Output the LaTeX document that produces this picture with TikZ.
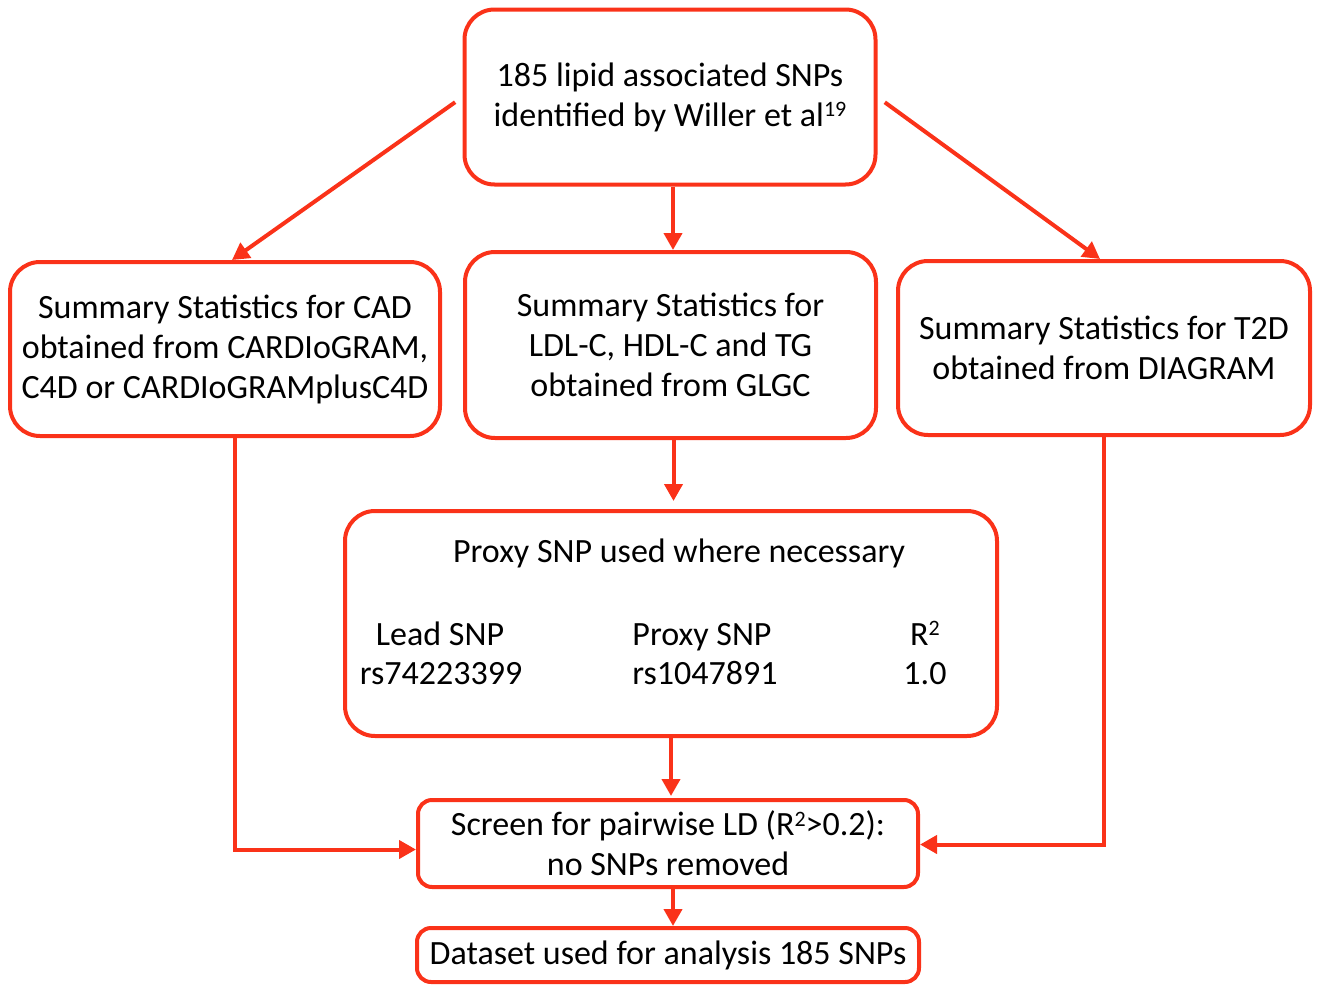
\documentclass[tikz,border=0pt]{standalone}
\usepackage{fontspec}
\setmainfont{Carlito}
\usepackage{tikz}
\usepackage{xcolor}
\usetikzlibrary{arrows.meta,calc,positioning}
\definecolor{flowred}{RGB}{250,50,25}
\newcommand{\supnum}[1]{\raisebox{0.6ex}{\fontsize{11}{11}\selectfont #1}}

\begin{document}
\begin{tikzpicture}[x=0.5pt,y=-0.5pt,>={Triangle[length=8.5pt,width=9pt]},
  font=\fontsize{17}{20}\selectfont]
  \useasboundingbox (0,0) rectangle (1318,985);
  \node[draw=flowred,line width=2pt,rounded corners=15pt,minimum width=205.5pt,minimum height=87.5pt,align=center] (top) at (670,97) {185 lipid associated SNPs\\ identified by Willer et al\supnum{19}};
  \node[draw=flowred,line width=2pt,rounded corners=15pt,minimum width=215pt,minimum height=87pt,align=center] (cad) at (225,349) {Summary Statistics for CAD\\ obtained from CARDIoGRAM,\\ C4D or CARDIoGRAMplusC4D};
  \node[draw=flowred,line width=2pt,rounded corners=15pt,minimum width=205.5pt,minimum height=93pt,align=center] (glgc) at (670.5,345) {Summary Statistics for\\ LDL-C, HDL-C and TG\\ obtained from GLGC};
  \node[draw=flowred,line width=2pt,rounded corners=15pt,minimum width=206pt,minimum height=87pt,align=center] (t2d) at (1104,348) {Summary Statistics for T2D\\ obtained from DIAGRAM};
  \node[draw=flowred,line width=2pt,rounded corners=15pt,minimum width=326pt,minimum height=112.5pt] (proxy) at (671,623.5) {};
  \node (proxytitle) at (679,553) {Proxy SNP used where necessary};
  \node[anchor=base] (leadhead) at (440,645) {Lead SNP};
  \node[anchor=base] (leadid) at (441,684) {rs74223399};
  \node[anchor=base] (proxyhead) at (702,645) {Proxy SNP};
  \node[anchor=base] (proxyid) at (705,684) {rs1047891};
  \node[anchor=base] (rsqhead) at (925,645) {R\supnum{2}};
  \node[anchor=base] (rsqval) at (925,684) {1.0};
  \node[draw=flowred,line width=2pt,rounded corners=7pt,minimum width=250pt,minimum height=43.5pt,align=center] (screen) at (668,843.5) {Screen for pairwise LD (R\supnum{2}>0.2):\\ no SNPs removed};
  \node[draw=flowred,line width=2pt,rounded corners=7pt,minimum width=251pt,minimum height=27pt] (dataset) at (668,955) {Dataset used for analysis 185 SNPs};
  \draw[->,line width=2pt,flowred,shorten <=4.5pt] (top.west)--([xshift=3.5pt]cad.north);
  \draw[->,line width=2pt,flowred,shorten <=4.5pt] (top.east)--([xshift=-2pt]t2d.north);
  \draw[->,line width=2pt,flowred] ([xshift=1.5pt]top.south)--([xshift=1.5pt]top.south |- glgc.north);
  \draw[->,line width=2pt,flowred] ([xshift=1.5pt]glgc.south)--([xshift=1.5pt,yshift=4pt]glgc.south |- proxy.north);
  \draw[->,line width=2pt,flowred] (proxy.south)--([yshift=1pt]proxy.south |- screen.north);
  \draw[->,line width=2pt,flowred] ([xshift=5pt]cad.south) |- ([yshift=-3pt]screen.west);
  \draw[->,line width=2pt,flowred] (t2d.south) |- ([yshift=-0.5pt]screen.east);
  \draw[->,line width=2pt,flowred] ([xshift=2.5pt]screen.south)--([xshift=2.5pt]screen.south |- dataset.north);
\end{tikzpicture}
\end{document}
